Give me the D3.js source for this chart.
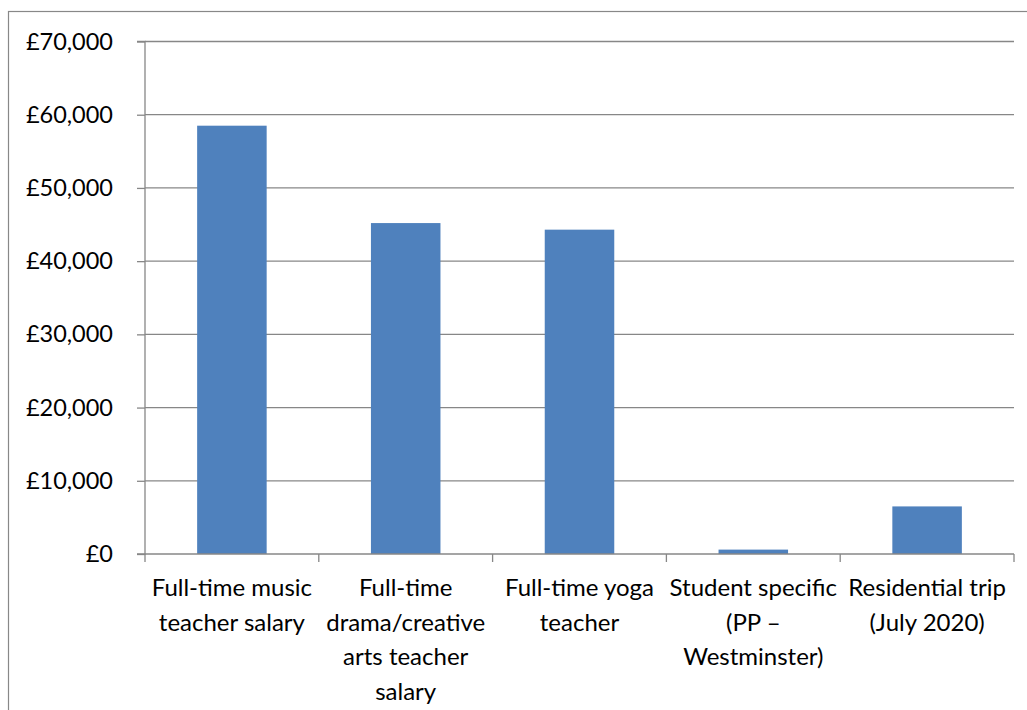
<!DOCTYPE html>
<html>
<head>
<meta charset="utf-8">
<script src="https://cdn.jsdelivr.net/npm/d3@7"></script>
<style>
  body { margin: 0; background: #fff; }
  svg { display: block; font-family: Lato, "Open Sans", sans-serif; }
</style>
</head>
<body>
<div id="chart"></div>
<script>
// categories as they are broken over lines under the axis
const categories = [
  "Full-time music\nteacher salary",
  "Full-time\ndrama/creative\narts teacher\nsalary",
  "Full-time yoga\nteacher",
  "Student specific\n(PP \u2013\nWestminster)",
  "Residential trip\n(July 2020)"
];
const values = [58500, 45200, 44300, 600, 6500];
const yTicks = [0, 10000, 20000, 30000, 40000, 50000, 60000, 70000];

const width = 1027, height = 710;
const margin = { top: 41.5, right: 13, bottom: 156, left: 145 };
const innerW = width - margin.left - margin.right;
const innerH = height - margin.top - margin.bottom;

const svg = d3.select('#chart')
  .append('svg')
  .attr('width', width)
  .attr('height', height);

// outer chart border (only left and top visible)
svg.append('rect')
  .attr('x', 8.5)
  .attr('y', 11.5)
  .attr('width', 1100)
  .attr('height', 800)
  .attr('fill', 'none')
  .attr('stroke', '#888')
  .attr('stroke-width', 1.2);

const g = svg.append('g').attr('transform', `translate(${margin.left},${margin.top})`);

const x = d3.scaleBand().domain(categories).range([0, innerW]).paddingInner(0.6).paddingOuter(0.3);
const y = d3.scaleLinear().domain([0, 70000]).range([innerH, 0]);

// gridlines
g.selectAll('.grid')
  .data(yTicks.filter(d => d > 0))
  .enter()
  .append('line')
  .attr('x1', 0)
  .attr('x2', innerW)
  .attr('y1', d => y(d))
  .attr('y2', d => y(d))
  .attr('stroke', '#878787')
  .attr('stroke-width', 1.3);

// bars
g.selectAll('.bar')
  .data(values)
  .enter()
  .append('rect')
  .attr('x', (d, i) => x(categories[i]))
  .attr('y', d => y(d))
  .attr('width', x.bandwidth())
  .attr('height', d => innerH - y(d))
  .attr('fill', '#4F81BD');

// y axis
const yAxis = d3.axisLeft(y)
  .tickValues(yTicks)
  .tickSize(8)
  .tickPadding(24)
  .tickFormat(d => '\u00a3' + d3.format(',')(d));
const ya = g.append('g').call(yAxis);
ya.select('.domain').attr('stroke', '#878787').attr('stroke-width', 1.3).attr('d', `M-8,0H0V${innerH}H-8`);
ya.selectAll('.tick line').attr('stroke', '#878787').attr('stroke-width', 1.3);
ya.selectAll('.tick text').attr('font-size', 23.5).attr('fill', '#000').attr('font-family', 'Lato, sans-serif');

// x axis: category boundary ticks
const step = innerW / categories.length;
const bounds = d3.range(categories.length + 1).map(i => i * step);
g.append('line')
  .attr('x1', 0).attr('x2', innerW)
  .attr('y1', innerH).attr('y2', innerH)
  .attr('stroke', '#878787').attr('stroke-width', 1.3);
g.selectAll('.xtick')
  .data(bounds)
  .enter()
  .append('line')
  .attr('x1', d => d).attr('x2', d => d)
  .attr('y1', innerH).attr('y2', innerH + 8)
  .attr('stroke', '#878787').attr('stroke-width', 1.3);

// category labels
const labels = g.selectAll('.xlabel')
  .data(categories)
  .enter()
  .append('text')
  .attr('text-anchor', 'middle')
  .attr('font-size', 24)
  .attr('fill', '#000')
  .attr('transform', d => `translate(${x(d) + x.bandwidth() / 2},${innerH + 42})`);

labels.selectAll('tspan')
  .data(d => d.split('\n'))
  .enter()
  .append('tspan')
  .attr('x', 0)
  .attr('y', (d, i) => i * 34.5)
  .text(d => d);
</script>
</body>
</html>
